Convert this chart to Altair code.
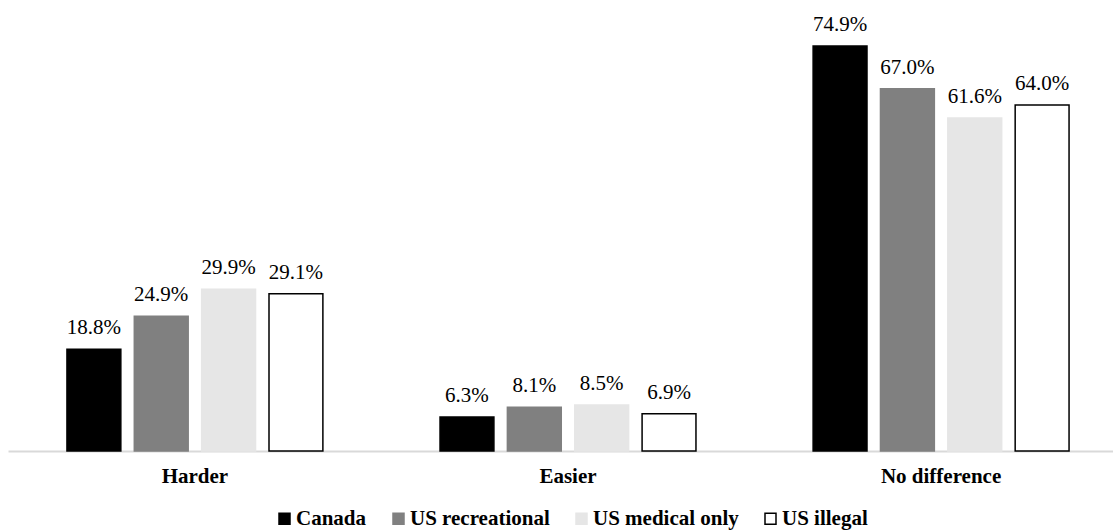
import altair as alt
import pandas as pd

categories = ["Harder", "Easier", "No difference"]
series = ["Canada", "US recreational", "US medical only", "US illegal"]
canada = [18.8, 6.3, 74.9]
us_recreational = [24.9, 8.1, 67.0]
us_medical_only = [29.9, 8.5, 61.6]
us_illegal = [29.1, 6.9, 64.0]
fills = ["#000000", "#808080", "#e6e6e6", "#ffffff"]
strokes = ["#000000", "#808080", "#e6e6e6", "#000000"]

rows = []
for s, vals in zip(series, [canada, us_recreational, us_medical_only, us_illegal]):
    for c, v in zip(categories, vals):
        rows.append({"category": c, "series": s, "value": v, "label": f"{v:.1f}%"})
df = pd.DataFrame(rows)

FONT = "'Times New Roman', 'Liberation Serif', serif"

x = alt.X(
    "category:N",
    sort=categories,
    scale=alt.Scale(range=[0, 1120], paddingInner=0.314, paddingOuter=0.158),
    axis=alt.Axis(
        title=None, labelAngle=0, ticks=False, domainColor="#d9d9d9", domainWidth=2,
        labelFont=FONT, labelFontSize=21, labelFontWeight="bold", labelColor="#000000",
        labelPadding=14,
    ),
)
xo = alt.XOffset("series:N", sort=series, scale=alt.Scale(paddingInner=0.2, paddingOuter=0))
y = alt.Y("value:Q", scale=alt.Scale(domain=[0, 83.4], nice=False), axis=None)

legend = alt.Legend(
    title=None, orient="none", direction="horizontal", legendX=266, legendY=508,
    symbolType="square", symbolSize=121, symbolStrokeWidth=1.5,
    labelFont=FONT, labelFontSize=21, labelFontWeight="bold", labelColor="#000000",
    labelOffset=1, columnPadding=21,
)

bars = alt.Chart(df).mark_bar(strokeWidth=1.5).encode(
    x=x,
    xOffset=xo,
    y=y,
    fill=alt.Fill("series:N", sort=series, scale=alt.Scale(domain=series, range=fills), legend=legend),
    stroke=alt.Stroke("series:N", sort=series, scale=alt.Scale(domain=series, range=strokes), legend=legend),
)

labels = alt.Chart(df).mark_text(
    font=FONT, fontSize=21, baseline="alphabetic", dy=-15, color="#000000"
).encode(x=x, xOffset=xo, y=y, text="label:N")

chart = alt.layer(bars, labels).properties(
    width=1105,
    height=451,
    padding={"left": 8, "top": 0, "right": 0, "bottom": 80},
    autosize=alt.AutoSizeParams(type="none"),
).configure_view(stroke=None)

chart.save("out.html", embed_options={"renderer": "svg", "actions": False})
